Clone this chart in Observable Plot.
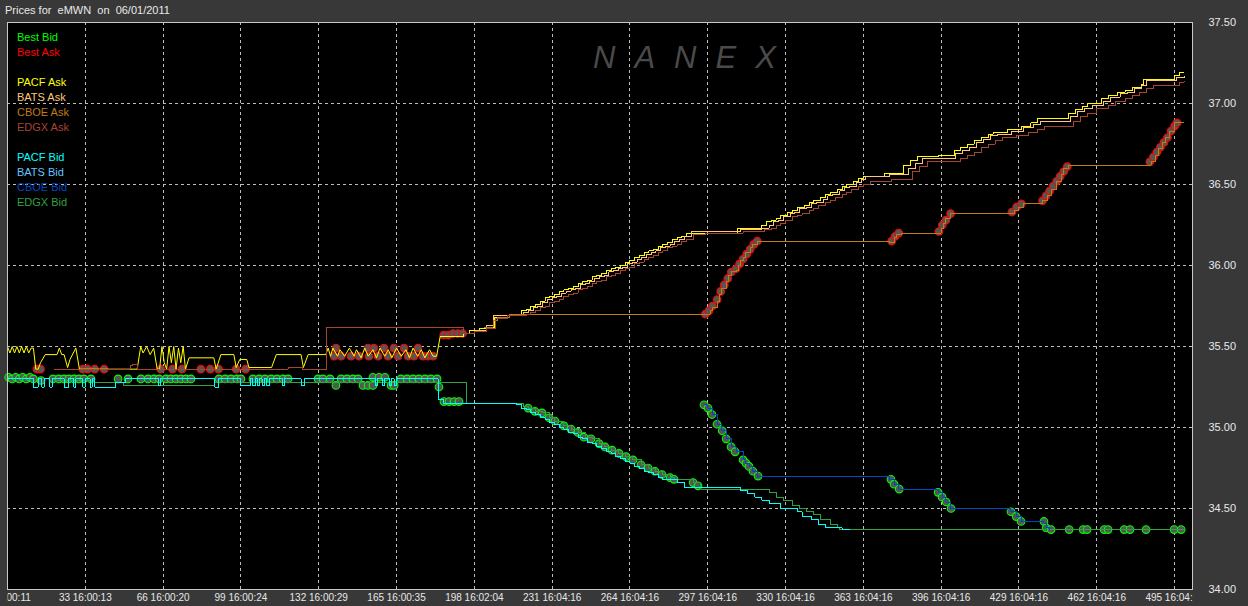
<!DOCTYPE html>
<html><head><meta charset="utf-8">
<script src="https://cdn.jsdelivr.net/npm/d3@7"></script>
<script src="https://cdn.jsdelivr.net/npm/@observablehq/plot@0.6"></script>
<style>
html,body{margin:0;padding:0;background:#383838;}
#wrap{position:relative;width:1248px;height:606px;overflow:hidden;font-family:"Liberation Sans",Arial,sans-serif;}
#title{position:absolute;left:5px;top:4px;font-size:11px;color:#e8e8e8;white-space:pre;}
#legend{position:absolute;left:17px;top:30px;font-size:11px;line-height:15px;white-space:pre;}
#wm{position:absolute;left:593px;top:40px;font-size:31px;font-style:italic;color:#4a4a4a;letter-spacing:19px;white-space:pre;}
</style></head>
<body>
<div id="wrap">
  <div id="chart"></div>
  <div id="title"></div>
  <div id="wm">NANEX</div>
  <div id="legend"></div>
</div>
<script>
// ---------- data ----------
const symbol = "eMWN";
const dateStr = "06/01/2011";

const yTicks = [34.0, 34.5, 35.0, 35.5, 36.0, 36.5, 37.0, 37.5];
const xTickIdx = [0, 33, 66, 99, 132, 165, 198, 231, 264, 297, 330, 363, 396, 429, 462, 495];
const xTickTime = ["16:00:11","16:00:13","16:00:20","16:00:24","16:00:29","16:00:35","16:02:04","16:04:16",
  "16:04:16","16:04:16","16:04:16","16:04:16","16:04:16","16:04:16","16:04:16","16:04:16"];

const legendGroups = [
  ["Best Bid", "Best Ask"],
  ["PACF Ask", "BATS Ask", "CBOE Ask", "EDGX Ask"],
  ["PACF Bid", "BATS Bid", "CBOE Bid", "EDGX Bid"]
];
const seriesColors = {
  "Best Bid": "#00ff00", "Best Ask": "#ff0000",
  "PACF Ask": "#ffff00", "BATS Ask": "#ffc878", "CBOE Ask": "#c07c14", "EDGX Ask": "#a84430",
  "PACF Bid": "#00ffff", "BATS Bid": "#64c4ff", "CBOE Bid": "#0048c0", "EDGX Bid": "#30a040"
};

// [event index, price]
// PACF ask while it flickers (drawn point to point)
const pacfAskOpen = [
  [0,35.50],[1,35.46],[2,35.50],[3,35.46],[4,35.50],[5,35.46],[6,35.50],[7,35.46],[8,35.50],[9,35.46],[10,35.49],
  [11,35.49],[12,35.36],[13,35.36],[14,35.40],[16,35.45],[21,35.45],[22,35.49],[23,35.45],[24,35.45],[25.5,35.37],
  [26.5,35.42],[29,35.49],[30.5,35.36],[55,35.36],[56.5,35.50],[57.5,35.46],[59,35.50],[60.5,35.45],[62,35.49],
  [63.5,35.36],[64.5,35.36],[65.5,35.50],[66.5,35.40],[67.5,35.36],[68.5,35.50],[69.5,35.40],[70.5,35.50],
  [71.5,35.36],[72.5,35.49],[73.5,35.40],[74.5,35.50],[75.5,35.36],[77,35.43],[87.5,35.43],[88.5,35.36],
  [90.5,35.45],[96,35.45],[97,35.37],[98.5,35.42],[101.5,35.42],[102.4,35.37],[112,35.37],[114,35.45],
  [124.5,35.45],[125.5,35.37],[127.5,35.45],[135,35.45],[136,35.49],
  [137,35.44],[138,35.49],[140,35.44],[141,35.48],[143,35.44],[145,35.49],[147,35.44],[148,35.48],[150,35.43],
  [151.5,35.49],[153,35.44],[155,35.48],[156.5,35.43],[158,35.49],[160,35.44],[161.5,35.48],[163,35.43],[165,35.49],
  [167,35.44],[169,35.48],[170.5,35.43],[172,35.49],[174,35.44],[175.5,35.48],[177,35.43],[179,35.48],[180.5,35.44],
  [182,35.44],[183.5,35.56]
];
// PACF ask once it climbs (stepped)
const pacfAskRise = [
  [183.5,35.56],[193.6,35.58],[196,35.60],[200,35.61],[205,35.62],[206.5,35.68],[212,35.69],[216.5,35.70],
  [218,35.72],[220,35.73],[222,35.75],[224,35.76],[226,35.78],[228,35.80],[230,35.81],[232,35.82],[234,35.84],
  [236,35.85],[238,35.86],[240,35.87],[242,35.89],[244,35.90],[246,35.91],[248,35.93],[250,35.94],[252,35.95],
  [254,35.97],[256,35.98],[258,35.99],[260,36.00],[262,36.02],[264,36.03],[266,36.05],[268,36.06],[270,36.08],
  [272,36.09],[274,36.10],[276,36.12],[278,36.13],[280,36.14],[282,36.16],[284,36.17],[286,36.18],[288,36.20],
  [309.8,36.23],[319.6,36.25],[322,36.27],[324,36.28],[326,36.29],[328,36.31],[331,36.33],[333,36.34],[335,36.36],
  [338,36.37],[340,36.39],[342,36.40],[345,36.42],[347,36.44],[349,36.45],[352,36.47],[354,36.49],[356,36.50],
  [359,36.52],[361,36.54],[363,36.55],[372,36.57],[380,36.62],[383,36.65],[386,36.67],[395,36.68],[401.5,36.71],
  [404,36.73],[407,36.75],[410,36.77],[413,36.79],[416,36.81],[418,36.82],[424,36.84],[430,36.86],[434,36.88],
  [437,36.91],[450,36.94],[453,36.96],[456,36.98],[458,37.00],[464,37.03],[467,37.05],[471,37.07],[474,37.08],
  [477,37.10],[481,37.12],[482,37.15],[495,37.17],[497,37.19],[499,37.19]
];

const batsAsk = [
  [199,35.60],[203,35.63],[206,35.69],[217,35.70],[219,35.71],[221,35.72],[223,35.74],[225,35.75],[227,35.77],
  [229,35.79],[231,35.80],[233,35.81],[235,35.83],[237,35.84],[239,35.85],[241,35.86],[243,35.88],[245,35.89],
  [247,35.90],[249,35.92],[251,35.93],[253,35.94],[255,35.96],[257,35.97],[259,35.98],[261,35.99],[263,36.01],
  [265,36.02],[267,36.04],[269,36.05],[271,36.07],[273,36.08],[275,36.09],[277,36.11],[279,36.12],[281,36.13],
  [283,36.15],[285,36.16],[287,36.18],[290,36.21],[311,36.22],[320,36.23],[323,36.25],[325,36.27],[327,36.28],
  [329,36.30],[332,36.32],[334,36.33],[336,36.35],[339,36.36],[341,36.38],[343,36.39],[346,36.41],[348,36.43],
  [350,36.44],[353,36.46],[355,36.48],[357,36.49],[360,36.51],[362,36.53],[364,36.55],[374,36.56],[382,36.60],
  [385,36.63],[388,36.66],[402,36.69],[405,36.71],[408,36.73],[411,36.76],[414,36.78],[417,36.80],[420,36.81],
  [426,36.83],[431,36.85],[435,36.87],[438,36.89],[451,36.92],[454,36.95],[457,36.97],[460,36.99],[465,37.01],
  [468,37.04],[472,37.06],[475,37.07],[478,37.09],[481,37.11],[483,37.14],[496,37.16],[499,37.17]
];

const cboeAsk = [
  [202,35.62],[206,35.66],[208,35.68],[213,35.70],[296,35.70],[298,35.72],[299,35.74],[301,35.78],[302,35.82],
  [303,35.86],[305,35.90],[306,35.94],[307,35.96],[309,35.97],[310,36.00],[311,36.03],[312,36.05],[313,36.08],
  [315,36.11],[316,36.13],[318,36.15],[374,36.14],[376,36.17],[377,36.19],[379,36.20],[395,36.20],[396,36.23],
  [397,36.26],[398,36.29],[400,36.32],[425,36.32],[427,36.34],[429,36.36],[431,36.38],[438,36.38],[439,36.40],
  [441,36.43],[443,36.47],[445,36.52],[447,36.56],[448,36.60],[450,36.62],[484,36.62],[485,36.64],[487,36.68],
  [488,36.72],[490,36.76],[491,36.79],[493,36.83],[495,36.88],[499,36.88]
];

const edgxAsk = [
  [19.7,35.36],[52,35.38],[53,35.39],[55,35.36],[119,35.37],[125,35.36],[135.2,35.62],[193.6,35.58],[198,35.59],
  [203,35.61],[207,35.67],[212,35.69],[220,35.70],[222,35.71],[224,35.72],[226,35.74],[228,35.75],[230,35.77],
  [232,35.78],[234,35.79],[236,35.81],[238,35.82],[240,35.83],[242,35.85],[244,35.86],[246,35.87],[248,35.89],
  [250,35.90],[252,35.91],[254,35.93],[256,35.94],[258,35.95],[260,35.97],[262,35.98],[264,35.99],[266,36.01],
  [268,36.02],[270,36.04],[272,36.05],[274,36.06],[276,36.08],[278,36.09],[280,36.11],[282,36.12],[284,36.13],
  [286,36.15],[288,36.16],[291,36.19],[296,36.20],[312,36.21],[321,36.22],[324,36.23],[326,36.25],[328,36.26],
  [330,36.28],[333,36.30],[335,36.31],[337,36.32],[340,36.34],[342,36.35],[344,36.37],[347,36.39],[349,36.40],
  [351,36.42],[354,36.44],[356,36.45],[358,36.47],[361,36.49],[363,36.50],[366,36.52],[375,36.53],[384,36.58],
  [387,36.61],[390,36.64],[404,36.66],[407,36.68],[410,36.70],[413,36.73],[416,36.75],[419,36.77],[422,36.79],
  [428,36.80],[433,36.82],[437,36.84],[440,36.86],[452,36.89],[455,36.92],[458,36.94],[462,36.97],[467,36.99],
  [470,37.01],[474,37.03],[477,37.05],[480,37.07],[483,37.09],[486,37.11],[497,37.13],[499,37.14]
];

const pacfBid = [
  [0,35.30],[11,35.25],[13,35.30],[14.5,35.25],[15.5,35.30],[18,35.25],[19,35.30],[24,35.25],[26,35.30],[28,35.25],
  [29,35.30],[32,35.25],[33,35.30],[35,35.25],[36,35.30],[37,35.25],[46,35.28],[50,35.30],[64,35.26],[65,35.30],
  [88,35.25],[89.5,35.30],[99,35.26],[103,35.30],[104,35.26],[105,35.30],[106,35.26],[107,35.30],[108,35.26],
  [109,35.30],[110,35.26],[111,35.30],[116.5,35.26],[117.5,35.30],[124.5,35.26],[126,35.30],[156,35.26],[157,35.30],
  [159,35.26],[160,35.30],[162,35.26],[163,35.30],[164,35.26],[165,35.30],[182.6,35.17],[185,35.15],
  [216,35.14],[218,35.12],[220,35.11],[222,35.09],[224,35.08],[226,35.06],[228,35.05],[230,35.03],[232,35.02],
  [234,35.00],[236,34.99],[238,34.97],[240,34.96],[242,34.94],[244,34.93],[246,34.91],[248,34.90],[250,34.88],
  [252,34.87],[254,34.85],[256,34.84],[258,34.82],[260,34.81],[262,34.79],[264,34.78],[266,34.76],[268,34.75],
  [270,34.73],[272,34.72],[274,34.71],[276,34.69],[278,34.68],[284,34.66],[287,34.63],[308,34.63],[311,34.61],
  [314,34.59],[317,34.57],[320,34.55],[323,34.53],[328,34.50],[335,34.48],[337,34.45],[341,34.43],[344,34.40],
  [347,34.38],[354,34.37],[357,34.37]
];

const cboeBid = [
  [295.4,35.14],[297,35.12],[299,35.08],[301,35.02],[303,34.98],[305,34.93],[307,34.88],[309,34.85],[312,34.80],
  [313,34.78],[314.5,34.76],[316,34.73],[318,34.70],[374,34.68],[376,34.65],[378,34.62],[394.7,34.60],[396.4,34.57],
  [398,34.54],[400,34.50],[425.6,34.48],[427.8,34.45],[429.9,34.42],[439.6,34.41],[440.5,34.38],[442,34.37]
];

const edgxBid = [
  [20,35.29],[37,35.28],[49,35.26],[88,35.28],[194.5,35.15],[219,35.13],[221,35.12],[224,35.10],[227,35.09],
  [230,35.06],[232,35.04],[236,35.01],[239,34.99],[242,34.97],[245,34.94],[248,34.93],[251,34.90],[253,34.88],
  [256,34.86],[259,34.84],[262,34.82],[265,34.80],[269,34.77],[272,34.75],[275,34.73],[278,34.71],[281,34.69],
  [283,34.68],[291,34.66],[294,34.62],[321,34.62],[323,34.60],[326,34.57],[329,34.55],[333,34.52],[336,34.50],
  [339,34.48],[342,34.46],[345,34.43],[349,34.40],[352,34.38],[353,34.37],[499,34.37]
];

// NBBO markers
const bestAsk = [
  [12.5,35.36],[14,35.36],[32,35.36],[34,35.36],[37,35.36],[41,35.36],[65,35.36],[70,35.36],[74,35.36],[82,35.36],
  [86,35.36],[89.5,35.36],[97,35.36],[101,35.36],
  [138.5,35.44],[139.3,35.49],[141.5,35.44],[145.7,35.44],[149.1,35.44],[152.9,35.49],[153.3,35.44],[155.4,35.49],
  [157.2,35.44],[159.7,35.49],[161.4,35.44],[163.9,35.49],[165.6,35.44],[168.2,35.49],[169.9,35.44],[172.4,35.44],
  [174.1,35.49],[176.2,35.44],[178.4,35.44],[180.5,35.44],
  [185,35.57],[187,35.57],[189,35.58],[191,35.58],[193,35.58],
  [296,35.70],[297.5,35.72],[299,35.75],[301,35.79],[302.5,35.84],[304,35.88],[305.5,35.92],[307,35.96],[309,35.98],
  [310.5,36.01],[312,36.04],[313.5,36.07],[315,36.10],[316.5,36.13],[318,36.15],
  [375,36.15],[376.5,36.18],[378,36.20],[395,36.21],[396.5,36.25],[398,36.28],[400,36.32],
  [426,36.33],[428,36.36],[430,36.38],
  [439,36.40],[440.5,36.43],[442,36.46],[443.5,36.49],[445,36.52],[446.5,36.55],[448,36.58],[449.5,36.61],
  [484.5,36.64],[486,36.67],[487.5,36.70],[489,36.73],[490.5,36.76],[492,36.79],[493.5,36.83],[495,36.86],[496,36.88]
];

const bestBid = [
  [0.5,35.31],[2,35.30],[3.5,35.31],[5,35.30],[6.5,35.31],[8,35.30],[9.5,35.31],[11,35.30],
  [14.2,35.29],[19.3,35.30],[21.8,35.30],[24,35.30],[26,35.30],[28.2,35.30],[30.3,35.30],[32.4,35.30],[35.4,35.30],
  [46.9,35.30],[51.1,35.30],[56.6,35.30],[59.6,35.30],[62.1,35.30],[64.3,35.30],
  [67.2,35.30],[69.3,35.30],[71.5,35.30],[73.6,35.30],[75.7,35.30],[77.8,35.30],
  [89.7,35.30],[92.3,35.30],[94.8,35.30],[97.3,35.30],[99,35.30],
  [104.1,35.30],[106.7,35.30],[109.2,35.30],[111.8,35.30],[114.3,35.30],[116.9,35.30],[119,35.30],
  [131.7,35.30],[133.8,35.30],[136.8,35.30],[139.3,35.26],[141.5,35.30],[144,35.30],[146.5,35.30],[148.7,35.30],
  [150.8,35.26],[152.9,35.26],[155,35.26],[155,35.31],[157.6,35.31],[160.1,35.31],[162.7,35.26],[164,35.26],
  [166.9,35.30],[169.5,35.30],[172,35.30],[174.5,35.30],[177.1,35.30],[179.6,35.30],[182.2,35.30],[183,35.25],
  [185.1,35.16],[187.3,35.16],[189.4,35.16],[191.5,35.16],
  [220.8,35.12],[223.7,35.10],[226.7,35.09],[229.7,35.06],[232.2,35.04],[236,35.01],[239,34.99],[241.9,34.97],
  [244.5,34.94],[247.5,34.93],[250.9,34.90],[253.4,34.88],[256.4,34.86],[259.4,34.84],[262.3,34.82],[265.3,34.80],
  [268.7,34.77],[271.7,34.75],[274.6,34.73],[277.6,34.71],[281,34.69],[282.7,34.68],[290.8,34.66],[292.9,34.64],
  [295.4,35.14],[297.1,35.12],[298.8,35.08],[300.9,35.02],[303.1,34.98],[304.8,34.93],[306.9,34.88],[308.6,34.85],
  [312,34.80],[313.2,34.78],[314.5,34.76],[316.2,34.73],[318.3,34.70],
  [374.7,34.68],[376,34.65],[378.2,34.62],[394.7,34.60],[396.4,34.57],[398.1,34.54],[400.2,34.50],
  [425.6,34.48],[427.8,34.45],[429.9,34.42],[439.6,34.42],[440.5,34.38],[442.6,34.37],
  [450.3,34.37],[456.2,34.37],[457.9,34.37],[465.1,34.37],[466.8,34.37],[473.6,34.37],[476.1,34.37],[482.9,34.37],
  [494.8,34.37],[497.8,34.37]
];

// ---------- chart ----------
const timeByIdx = new Map(xTickIdx.map((d, i) => [d, xTickTime[i]]));
const line = (data, name, curve = "step-after") => Plot.line(data, {
  x: d => d[0], y: d => d[1], stroke: seriesColors[name], strokeWidth: 1,
  curve, shapeRendering: curve === "linear" ? "auto" : "crispEdges"
});
const markers = (data, name) => Plot.dot(data, {
  x: d => d[0], y: d => d[1], r: 3.8, stroke: seriesColors[name], strokeWidth: 1.1, fill: "#555555"
});

const chart = Plot.plot({
  width: 1248, height: 606,
  marginLeft: 7, marginRight: 56, marginTop: 22, marginBottom: 17,
  style: {background: "#383838", color: "#e8e8e8", fontFamily: "Liberation Sans, Arial, sans-serif", fontSize: "11px"},
  x: {domain: [0, 502.6], axis: null},
  y: {domain: [yTicks[0], yTicks[yTicks.length - 1]], axis: null},
  marks: [
    Plot.frame({fill: "#000000"}),
    Plot.ruleY(yTicks.slice(1, -1), {stroke: "#bdbdbd", strokeDasharray: "3,3", shapeRendering: "crispEdges"}),
    Plot.ruleX(xTickIdx.slice(1), {stroke: "#bdbdbd", strokeDasharray: "3,3", shapeRendering: "crispEdges"}),
    markers(bestAsk, "Best Ask"),
    markers(bestBid, "Best Bid"),
    line(pacfAskOpen, "PACF Ask", "linear"),
    line(pacfAskRise, "PACF Ask"),
    line(batsAsk, "BATS Ask"),
    line(cboeAsk, "CBOE Ask"),
    line(edgxAsk, "EDGX Ask"),
    line(edgxBid, "EDGX Bid"),
    line(cboeBid, "CBOE Bid"),
    line(pacfBid, "PACF Bid"),
    Plot.frame({stroke: "#c8c8c8", shapeRendering: "crispEdges"}),
    Plot.axisY({anchor: "right", ticks: yTicks, tickSize: 0, tickPadding: 16, fontSize: 11,
      tickFormat: d => d.toFixed(2)}),
    Plot.axisX({anchor: "bottom", ticks: xTickIdx, tickSize: 0, tickPadding: 4, fontSize: 10,
      tickFormat: d => `${d} ${timeByIdx.get(d)}`})
  ]
});
document.getElementById("chart").appendChild(chart);

// clip x tick labels to plot width, like the original
const [x0, x1] = chart.scale("x").range;
const svg = d3.select(chart);
svg.append("defs").append("clipPath").attr("id", "xlabclip")
  .append("rect").attr("x", x0).attr("y", 0).attr("width", x1 - x0).attr("height", 606);
svg.selectAll('g[aria-label="x-axis tick label"]').attr("clip-path", "url(#xlabclip)");

// title
document.getElementById("title").textContent = `Prices for  ${symbol}  on  ${dateStr}`;

// legend
const leg = document.getElementById("legend");
legendGroups.forEach((g, gi) => {
  if (gi > 0) { const b = document.createElement("div"); b.innerHTML = "&nbsp;"; leg.appendChild(b); }
  g.forEach(name => {
    const d = document.createElement("div");
    d.textContent = name; d.style.color = seriesColors[name];
    leg.appendChild(d);
  });
});
</script>
</body></html>
